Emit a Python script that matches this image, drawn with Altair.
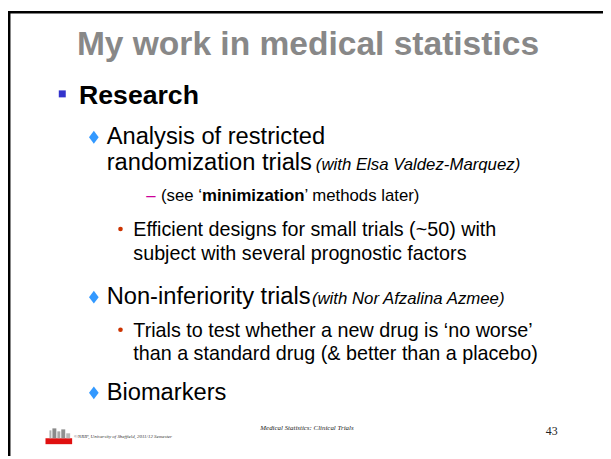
import altair as alt
import pandas as pd

# ---------------- slide content ----------------
title = ["My work in medical statistics"]
level1 = ["Research"]
level2_lines = ["Analysis of restricted", "randomization trials", "Non-inferiority trials", "Biomarkers"]
level2_notes = ["(with Elsa Valdez-Marquez)", "(with Nor Afzalina Azmee)"]
level3_lines = [
    "Efficient designs for small trials (~50) with",
    "subject with several prognostic factors",
    "Trials to test whether a new drug is \u2018no worse\u2019",
    "than a standard drug (& better than a placebo)",
]
level4_parts = ["(see \u2018", "minimization", "\u2019 methods later)"]
footer_left = ["\u00a9NRIF, University of Sheffield, 2011/12 Semester"]
footer_center = ["Medical Statistics: Clinical Trials"]
page_number = ["43"]

# ---------------- layout (page pixels) ----------------
title_pos = ([312], [53])
level1_pos = ([80], [102])
level2_pos = ([108, 108, 108, 108], [143, 169, 305, 402])
level2_note_pos = ([320, 316], [169, 305])
level3_pos = ([135, 135, 135, 135], [236, 260, 338, 362])
level4_pos = ([163, 204.6, 308.5], [201, 201, 201])
dash_pos = ([148], [201])
square_pos = ([63], [92])
diamond_pos = ([95, 95, 95], [136, 298, 395])
dot_pos = ([122, 122], [229, 331])
footer_left_pos = ([75], [441])
footer_center_pos = ([311], [433])
page_number_pos = ([553], [438])

logo_x = [46, 50, 53, 58, 62, 67]
logo_x2 = [73, 52, 57, 61, 66, 71]
logo_y = [441, 433, 431, 434, 432, 436]
logo_y2 = [447, 441, 441, 441, 441, 441]
logo_c = ["#E01010", "#B0B0B0", "#8A8A8A", "#A8A8A8", "#909090", "#B8B8B8"]

W, H = 603, 451
XS = alt.Scale(domain=[8, 611], nice=False, zero=False)
YS = alt.Scale(domain=[8, 459], nice=False, zero=False, reverse=True)


def X(f="x"):
    return alt.X(f"{f}:Q", scale=XS, axis=None)


def Y(f="y"):
    return alt.Y(f"{f}:Q", scale=YS, axis=None)


def txt(texts, pos, size, weight="normal", style="normal", color="#000000",
        font="Liberation Sans", align="left"):
    df = pd.DataFrame({"t": texts, "x": pos[0], "y": pos[1]})
    return alt.Chart(df).mark_text(
        align=align, baseline="alphabetic", font=font, fontSize=size,
        fontWeight=weight, fontStyle=style, color=color,
    ).encode(x=X(), y=Y(), text="t:N")


def level4_layer():
    df = pd.DataFrame({"t": level4_parts, "x": level4_pos[0], "y": level4_pos[1],
                       "w": ["normal", "bold", "normal"]})
    base = alt.Chart(df)
    layers = []
    for w in ["normal", "bold"]:
        layers.append(base.transform_filter(alt.datum.w == w).mark_text(
            align="left", baseline="alphabetic", font="Liberation Sans",
            fontSize=17, fontWeight=w, color="#000000",
        ).encode(x=X(), y=Y(), text="t:N"))
    return layers


frame = pd.DataFrame({"x": [8, 8], "x2": [611, 10.5], "y": [8, 8], "y2": [10.5, 459]})
frame_layer = alt.Chart(frame).mark_rect(color="#000000").encode(
    x=X(), x2="x2:Q", y=Y(), y2="y2:Q")

logo = pd.DataFrame({"x": logo_x, "x2": logo_x2, "y": logo_y, "y2": logo_y2, "c": logo_c})
logo_layer = alt.Chart(logo).mark_rect().encode(
    x=X(), x2="x2:Q", y=Y(), y2="y2:Q", color=alt.Color("c:N", scale=None))

sq = pd.DataFrame({"x": square_pos[0], "y": square_pos[1]})
square_layer = alt.Chart(sq).mark_point(shape="square", filled=True, size=50,
                                        color="#3333CC", opacity=1).encode(x=X(), y=Y())

dm = pd.DataFrame({"x": diamond_pos[0], "y": diamond_pos[1]})
diamond_layer = alt.Chart(dm).mark_point(
    shape="M0,-1L0.75,0L0,1L-0.75,0Z", filled=True, size=170,
    color="#3399FF", opacity=1).encode(x=X(), y=Y())

dt = pd.DataFrame({"x": dot_pos[0], "y": dot_pos[1]})
dot_layer = alt.Chart(dt).mark_circle(size=22, color="#CC3300", opacity=1).encode(x=X(), y=Y())

layers = [
    frame_layer,
    txt(title, title_pos, 34, weight="bold", color="#888888", align="center"),
    square_layer,
    txt(level1, level1_pos, 27, weight="bold"),
    diamond_layer,
    txt(level2_lines, level2_pos, 24),
    txt(level2_notes, level2_note_pos, 17, style="italic"),
    txt(["\u2013"], dash_pos, 17, color="#CC0099"),
    *level4_layer(),
    dot_layer,
    txt(level3_lines, level3_pos, 20),
    logo_layer,
    txt(footer_left, footer_left_pos, 5, style="italic", font="Liberation Serif", color="#333333"),
    txt(footer_center, footer_center_pos, 7, style="italic", font="Liberation Serif", color="#222222", align="center"),
    txt(page_number, page_number_pos, 12, font="Liberation Serif", color="#222222"),
]

chart = alt.layer(*layers).properties(
    width=W, height=H, padding=0,
    autosize=alt.AutoSizeParams(type="none"),
).configure_view(stroke=None)

chart.save("out.html", embed_options={"renderer": "svg", "actions": False})
